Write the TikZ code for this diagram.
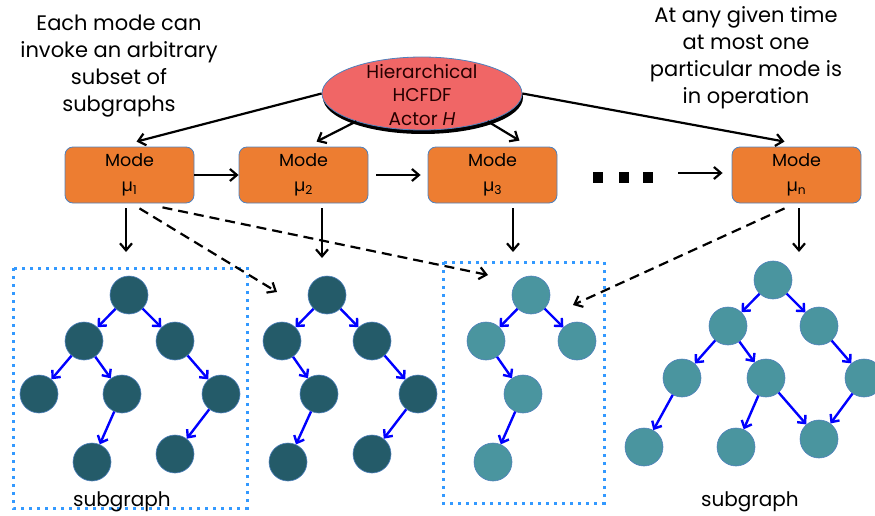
\documentclass[tikz,border=0pt]{standalone}
\usepackage{fontspec}
\setmainfont{Poppins}
\usetikzlibrary{arrows.meta,shapes.geometric,calc,shadows}
\definecolor{ellred}{HTML}{F06666}
\definecolor{modeor}{HTML}{ED7D31}
\definecolor{edgeblue}{HTML}{4F81BD}
\definecolor{darkteal}{HTML}{245B69}
\definecolor{lightteal}{HTML}{4A959F}
\definecolor{dotblue}{HTML}{3399FF}
\begin{document}
\begin{tikzpicture}[x=1pt,y=-1pt,
  modebox/.style={draw=edgeblue, line width=0.8pt, fill=modeor, rounded corners=8pt,
    minimum width=129pt, minimum height=56pt, inner sep=0pt, align=center,
    font=\fontsize{17.5}{25}\selectfont},
  dnode/.style={circle, draw=edgeblue, line width=0.6pt, fill=darkteal, minimum size=38pt, inner sep=0pt},
  lnode/.style={circle, draw=edgeblue, line width=0.6pt, fill=lightteal, minimum size=38pt, inner sep=0pt},
  tarrow/.style={-{Straight Barb[length=6pt,width=11pt]}, draw=blue, line width=2.4pt},
  barrow/.style={-{Straight Barb[length=7pt,width=12pt]}, line width=2.2pt},
  darrow/.style={barrow, dash pattern=on 10pt off 6pt},
  dotbox/.style={draw=dotblue, line width=3pt, dash pattern=on 3pt off 5pt},
  note/.style={align=center, font=\fontsize{21}{27}\selectfont},
  dotsq/.style={fill=black, minimum width=10pt, minimum height=11pt, inner sep=0pt}
]
\useasboundingbox (0,0) rectangle (875,516);

% dotted boxes
\draw[dotbox] (13,268) rectangle (247,508);
\draw[dotbox] (443,262) rectangle (604,503);

% notes
\node[note] (tl) at (119,66) {Each mode can\\invoke an arbitrary\\subset of\\subgraphs};
\node[note] (tr) at (746,58) {At any given time\\at most one\\particular mode is\\in operation};

% hierarchical actor
\node[ellipse, draw=edgeblue, line width=0.8pt, fill=ellred, minimum width=200pt, minimum height=73pt,
  drop shadow={opacity=1, fill=black, shadow xshift=1pt, shadow yshift=-4pt}] (H) at (422,93.5) {};
\node[align=center, font=\fontsize{18.5}{23.5}\selectfont, text=black!85!red] (Ht) at (422,95)
  {Hierarchical\\HCFDF\\Actor \textit{H}};

% modes
\node[modebox] (m1) at (129.5,175) {Mode\\µ\textsubscript{1}};
\node[modebox] (m2) at (303.5,175) {Mode\\µ\textsubscript{2}};
\node[modebox] (m3) at (492.5,175) {Mode\\µ\textsubscript{3}};
\node[modebox] (mn) at (796.5,175) {Mode\\µ\textsubscript{n}};

\node[dotsq] (d1) at (598,177) {};
\node[dotsq] (d2) at (624,177) {};
\node[dotsq] (d3) at (648,177) {};

% actor -> modes
\draw[barrow] (H.west) -- ($(m1.north)+(7,-5)$);
\draw[barrow] (H.203) -- ($(m2.north)+(13,-5)$);
\draw[barrow] (H.337) -- ($(m3.north)+(27,-6)$);
\draw[barrow] (H.east) -- ($(mn.north)+(-12,-5)$);

% mode chain
\draw[barrow] (m1.east) -- (m2.west);
\draw[barrow] ($(m2.east)+(8,0)$) -- ($(m3.west)+(-7,0)$);
\draw[barrow] ($(d3.east)+(25,-4)$) -- ($(mn.west)+(-9,-2)$);

% trees
% tree 1
\node[dnode] (a0) at (129,295) {};
\node[dnode] (a1) at (84,341) {};
\node[dnode] (a2) at (175,341) {};
\node[dnode] (a3) at (39,394) {};
\node[dnode] (a4) at (122,394) {};
\node[dnode] (a5) at (221,394) {};
\node[dnode] (a6) at (92,462) {};
\node[dnode] (a7) at (175,454) {};
\draw[tarrow] (a0) -- (a1);
\draw[tarrow] (a0) -- (a2);
\draw[tarrow] (a1) -- (a3);
\draw[tarrow] (a1) -- (a4);
\draw[tarrow] (a2) -- (a5);
\draw[tarrow] (a4) -- (a6);
\draw[tarrow] (a5) -- (a7);
% tree 2
\node[dnode] (b0) at (327,295) {};
\node[dnode] (b1) at (282,341) {};
\node[dnode] (b2) at (372,341) {};
\node[dnode] (b4) at (319,394) {};
\node[dnode] (b5) at (418,394) {};
\node[dnode] (b6) at (288,462) {};
\node[dnode] (b7) at (372,454) {};
\draw[tarrow] (b0) -- (b1);
\draw[tarrow] (b0) -- (b2);
\draw[tarrow] (b1) -- (b4);
\draw[tarrow] (b2) -- (b5);
\draw[tarrow] (b4) -- (b6);
\draw[tarrow] (b5) -- (b7);
% tree 3
\node[lnode] (c0) at (531,295) {};
\node[lnode] (c1) at (486,341) {};
\node[lnode] (c2) at (577,341) {};
\node[lnode] (c4) at (523,394) {};
\node[lnode] (c6) at (493,462) {};
\draw[tarrow] (c0) -- (c1);
\draw[tarrow] (c0) -- (c2);
\draw[tarrow] (c1) -- (c4);
\draw[tarrow] (c4) -- (c6);
% tree 4
\node[lnode] (e0) at (773,280) {};
\node[lnode] (e1) at (728,326) {};
\node[lnode] (e2) at (819,326) {};
\node[lnode] (e3) at (682,378) {};
\node[lnode] (e4) at (766,378) {};
\node[lnode] (e5) at (864,378) {};
\node[lnode] (e6) at (644,447) {};
\node[lnode] (e7) at (736,447) {};
\node[lnode] (e8) at (819,439) {};
\draw[tarrow] (e0) -- (e1);
\draw[tarrow] (e0) -- (e2);
\draw[tarrow] (e1) -- (e3);
\draw[tarrow] (e1) -- (e4);
\draw[tarrow] (e2) -- (e5);
\draw[tarrow] (e3) -- (e6);
\draw[tarrow] (e4) -- (e7);
\draw[tarrow] (e4) -- (e8);
\draw[tarrow] (e5) -- (e8);

% mode -> subgraph arrows
\coordinate (t1) at (126,252);
\coordinate (t2) at (322,258);
\coordinate (t3) at (513,252);
\coordinate (tn) at (799,252);
\draw[barrow] (m1.south -| t1) ++(0,5) -- (t1);
\draw[barrow] (m2.south -| t2) ++(0,5) -- (t2);
\draw[barrow] (m3.south -| t3) ++(0,5) -- (t3);
\draw[barrow] (mn.south -| tn) ++(0,5) -- (tn);

% dashed invocations
\coordinate (u1) at (277,292);
\coordinate (u2) at (488,275);
\coordinate (u3) at (573,305);
\draw[darrow] ($(m1.south)+(10,5)$) -- (u1);
\draw[darrow] ($(m1.south)+(33,4)$) -- (u2);
\draw[darrow] ($(mn.south)+(-12,5)$) -- (u3);

% labels
\node[font=\fontsize{20}{24}\selectfont] (s1) at (122,502) {subgraph};
\node[font=\fontsize{20}{24}\selectfont] (s2) at (750,502) {subgraph};
\end{tikzpicture}
\end{document}
